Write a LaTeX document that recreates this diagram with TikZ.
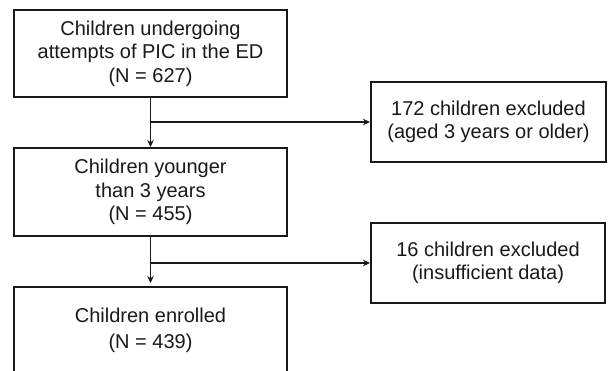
\documentclass[tikz,border=0pt]{standalone}
\usepackage{fontspec}
\setmainfont{Liberation Sans}
\usetikzlibrary{arrows.meta}
\begin{document}
\begin{tikzpicture}[x=1pt,y=-1pt,
  box/.style={draw=black!90, line width=2pt, inner sep=0pt, align=center,
    font=\fontsize{20}{23.5}\selectfont, text=black!90},
  conn/.style={draw=black!90, line width=1.6pt},
  arr/.style={conn, -{Stealth[length=7pt,width=6.5pt]}}]
\useasboundingbox (0,0) rectangle (608,370);
\clip (0,0) rectangle (608,370);
\fill[white] (0,0) rectangle (608,370);
\node[box, minimum width=273pt, minimum height=87pt] (b1) at (150.5,53.5)
  {Children undergoing\\attempts of PIC in the ED\\(N = 627)};
\node[box, minimum width=273pt, minimum height=88pt] (b2) at (150.5,192)
  {Children younger\\than 3 years\\(N = 455)};
\node[box, minimum width=273pt, minimum height=93pt] (b3) at (150.5,333.5) {};
\node[font=\fontsize{20}{26}\selectfont, text=black!90, align=center] (t3) at (150.5,330)
  {Children enrolled\\(N = 439)};
\node[box, minimum width=235pt, minimum height=80pt] (e1) at (488.5,122)
  {172 children excluded\\(aged 3 years or older)};
\node[box, minimum width=234pt, minimum height=80pt] (e2) at (488,263)
  {16 children excluded\\(insufficient data)};
\coordinate (j1) at (b1.south |- e1.west);
\coordinate (j2) at (b2.south |- e2.west);
\draw[arr] (b1.south) -- (b2.north);
\draw[arr] (j1) -- (e1.west);
\draw[arr, shorten >=3pt] (b2.south) -- (b3.north);
\draw[arr] (j2) -- (e2.west);
\end{tikzpicture}
\end{document}
